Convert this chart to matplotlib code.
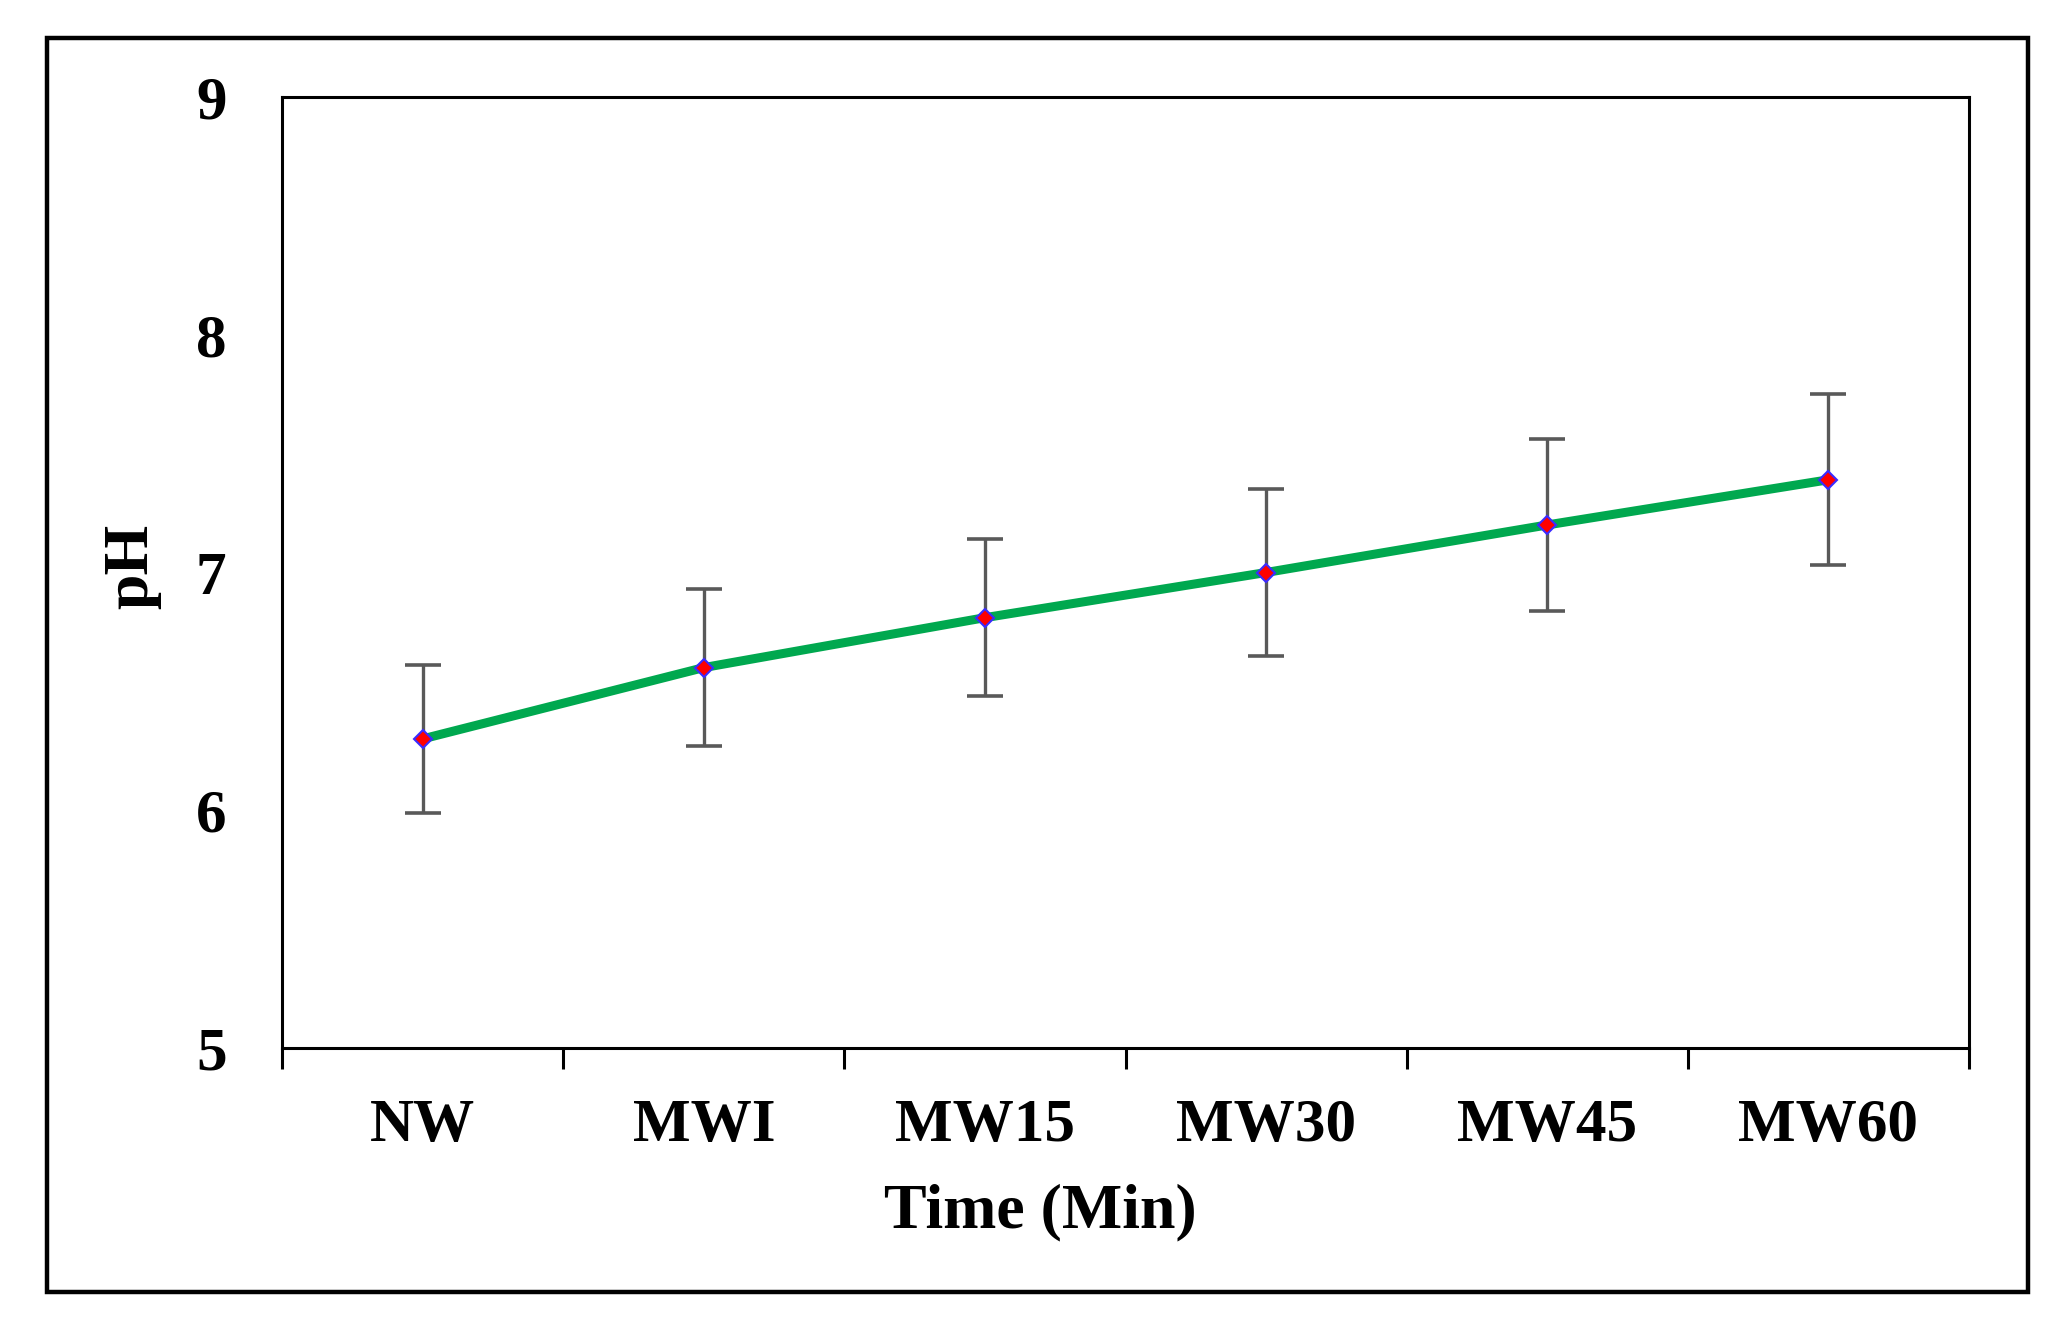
import matplotlib.pyplot as plt
from matplotlib.patches import Rectangle
import numpy as np

# data
groups = ['NW', 'MWI', 'MW15', 'MW30', 'MW45', 'MW60']
ph = [6.30, 6.60, 6.81, 7.00, 7.20, 7.39]
ph_err = [0.31, 0.33, 0.33, 0.35, 0.36, 0.36]

W, H = 2063, 1332
plt.rcParams['font.family'] = ['Liberation Serif', 'DejaVu Serif']
plt.rcParams['font.weight'] = 'bold'

fig = plt.figure(figsize=(W / 100, H / 100), dpi=100)
ax = fig.add_axes([282 / W, 1 - 1048 / H, (1969 - 282) / W, (1048 - 97) / H])

# outer frame around the whole chart
fig.patches.append(Rectangle((47 / W, 1 - 1292 / H), (2028 - 47) / W, (1292 - 38) / H,
                             transform=fig.transFigure, fill=False, lw=3.2,
                             edgecolor='black', zorder=0))

x = np.arange(len(groups)) + 0.5
ax.errorbar(x, ph, yerr=ph_err, fmt='none', ecolor='#595959', elinewidth=2.4,
            capsize=13, capthick=2.6, zorder=2)
ax.plot(x, ph, color='#00A84F', lw=6.5, zorder=3)
ax.plot(x, ph, ls='none', marker='D', ms=9, mfc='red', mec='#3b2bff', mew=1.5, zorder=4)

ax.set_xlim(0, len(groups))
ax.set_ylim(5, 9)
ax.set_yticks([5, 6, 7, 8, 9])
ax.tick_params(axis='y', length=0, pad=40, labelsize=44)

# category boundaries carry the tick marks, labels sit at the centres
ax.set_xticks(np.arange(len(groups) + 1))
ax.set_xticklabels([])
ax.tick_params(axis='x', which='major', direction='out', length=15, width=2.2)
ax.set_xticks(x, minor=True)
ax.set_xticklabels(groups, minor=True)
ax.tick_params(axis='x', which='minor', length=0, pad=36, labelsize=44)

for s in ax.spines.values():
    s.set_linewidth(2.2)

fig.text(1040 / W, 1 - 1212 / H, 'Time (Min)', ha='center', va='center',
         fontsize=46, fontweight='bold')
fig.text(132 / W, 1 - 566 / H, 'pH', ha='center', va='center', rotation=90,
         fontsize=46, fontweight='bold')

fig.savefig('out.png', dpi=100)
